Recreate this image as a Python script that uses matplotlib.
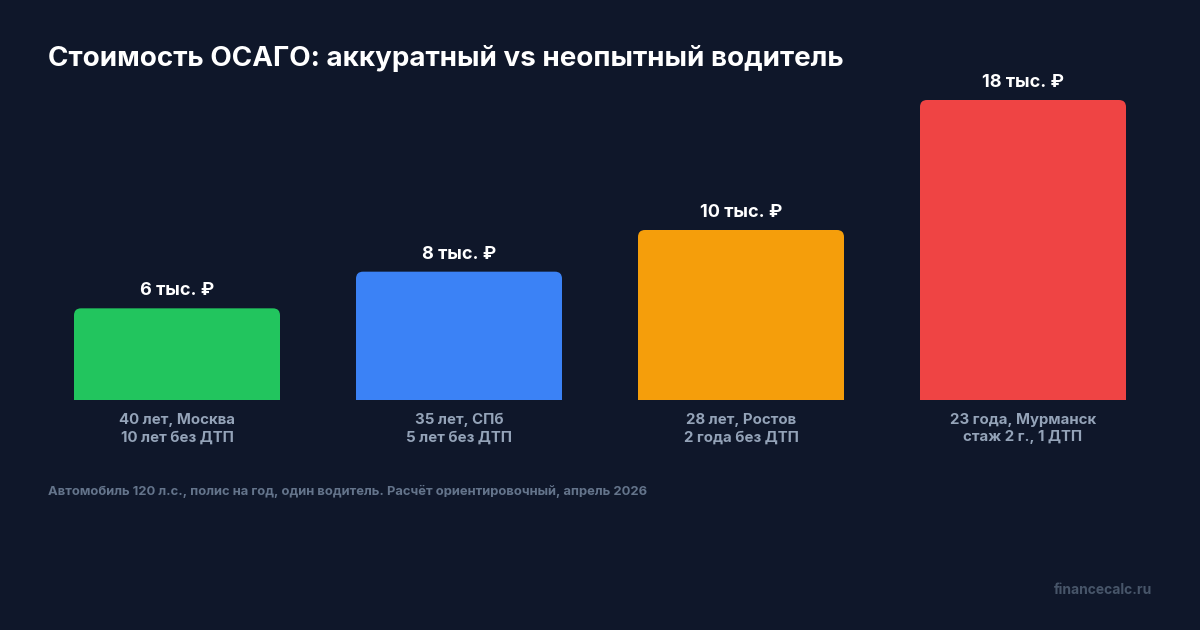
import matplotlib
matplotlib.use("Agg")
import matplotlib.pyplot as plt
from matplotlib.patches import FancyBboxPatch

# ---- data ----
categories = ["40 лет, Москва\n10 лет без ДТП",
              "35 лет, СПб\n5 лет без ДТП",
              "28 лет, Ростов\n2 года без ДТП",
              "23 года, Мурманск\nстаж 2 г., 1 ДТП"]
values = [5500, 7700, 10200, 18000]
value_labels = ["6 тыс. ₽", "8 тыс. ₽", "10 тыс. ₽", "18 тыс. ₽"]
colors = ["#22c55e", "#3b82f6", "#f59e0b", "#ef4444"]
title = "Стоимость ОСАГО: аккуратный vs неопытный водитель"
footnote = "Автомобиль 120 л.с., полис на год, один водитель. Расчёт ориентировочный, апрель 2026"
watermark = "financecalc.ru"

BG = "#0f172a"
FONT = ["Inter", "DejaVu Sans"]
plt.rcParams['font.family'] = FONT

W, H = 1200, 630
fig = plt.figure(figsize=(W / 100, H / 100), dpi=100, facecolor=BG)

# axes in pixel layout
ax_left, ax_right = 36, 1164
ax_top, ax_bottom = 60, 400
ax = fig.add_axes([ax_left / W, 1 - ax_bottom / H,
                   (ax_right - ax_left) / W, (ax_bottom - ax_top) / H])
ax.set_facecolor(BG)
ymax = max(values) * (ax_bottom - ax_top) / 300.0
ax.set_xlim(-0.5, len(values) - 0.5)
ax.set_ylim(0, ymax)
ax.axis("off")

bar_w = 206 / 282
bars = ax.bar(range(len(values)), values, width=bar_w, color=colors)

# replace with rounded-top shapes
px_x = (ax_right - ax_left) / len(values)
px_y = (ax_bottom - ax_top) / ymax
r_px = 7
rx = r_px / px_x
ry = r_px / px_y
for i, (b, c) in enumerate(zip(bars, colors)):
    b.set_visible(False)
    x0 = b.get_x()
    w = b.get_width()
    h = b.get_height()
    p = FancyBboxPatch((x0, -2 * ry), w, h + 2 * ry,
                       boxstyle=f"round,pad=0,rounding_size={rx}",
                       mutation_aspect=ry / rx,
                       facecolor=c, edgecolor="none", clip_on=True)
    ax.add_patch(p)
    ax.annotate(value_labels[i],
                (x0 + w / 2, h), xytext=(0, 9), textcoords="offset pixels",
                ha="center", va="bottom", color="white",
                fontsize=13, fontweight="bold", family=FONT)

for i, cat in enumerate(categories):
    ax.annotate(cat, (i, 0), xytext=(0, -13), textcoords="offset pixels",
                ha="center", va="top", color="#94a3b8", fontsize=10.8,
                fontweight="bold", linespacing=1.3, family=FONT)

fig.text(48 / W, 1 - 58 / H, title, color="white", fontsize=20,
         fontweight="bold", ha="left", va="center", family=FONT)
fig.text(48 / W, 1 - 491 / H, footnote, color="#64748b", fontsize=9.35,
         fontweight="bold", ha="left", va="center", family=FONT)
fig.text(1152 / W, 1 - 590 / H, watermark, color="#475569", fontsize=10,
         fontweight="bold", ha="right", va="center", family=FONT)

fig.savefig("out.png", dpi=100, facecolor=BG)
